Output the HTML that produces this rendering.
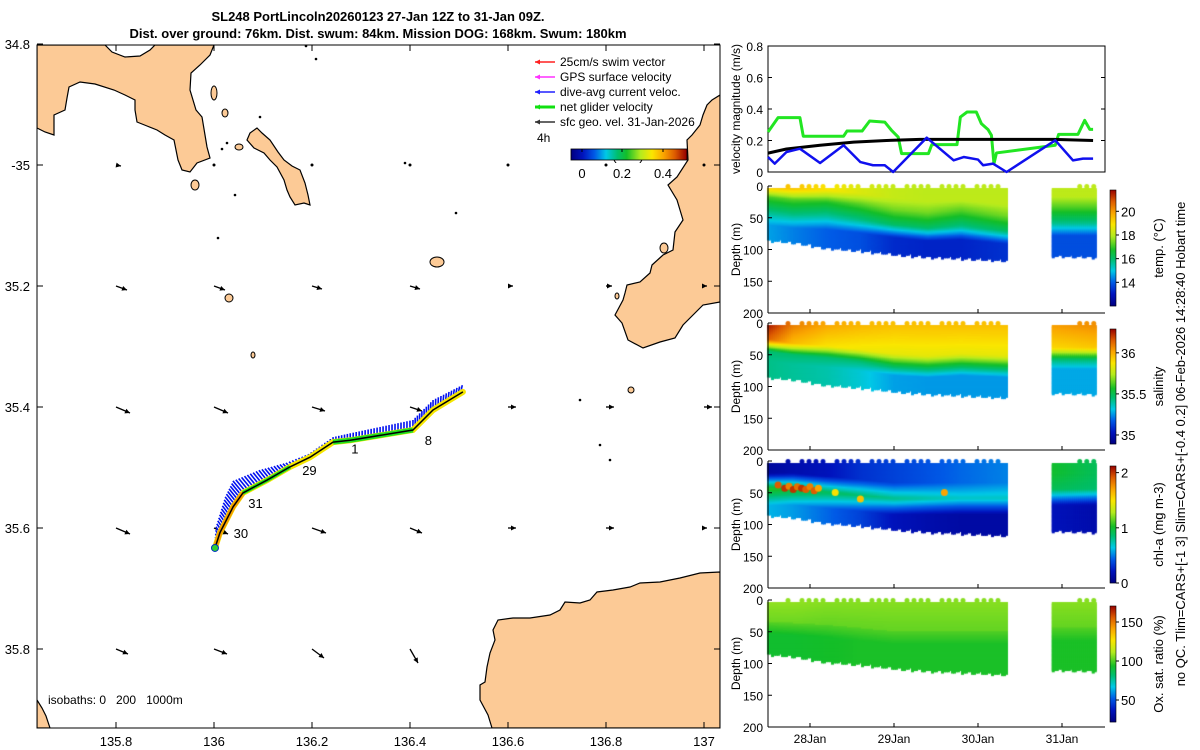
<!DOCTYPE html>
<html><head><meta charset="utf-8"><style>
html,body{margin:0;padding:0;background:#fff;}
#wrap{position:relative;width:1200px;height:750px;overflow:hidden;font-family:"Liberation Sans",sans-serif;}
canvas,svg{position:absolute;left:0;top:0;}
</style></head><body>
<div id="wrap">
<canvas id="cv" width="1200" height="750"></canvas>
<svg id="sv" width="1200" height="750" xmlns="http://www.w3.org/2000/svg" font-family="Liberation Sans, sans-serif">
<text x="378" y="21" text-anchor="middle" font-size="13" font-weight="bold">SL248 PortLincoln20260123 27-Jan 12Z to 31-Jan 09Z.</text>
<text x="378" y="38" text-anchor="middle" font-size="13" font-weight="bold">Dist. over ground: 76km. Dist. swum: 84km. Mission DOG: 168km. Swum: 180km</text>
<g id="map"></g>
<g id="right"></g>
</svg>
</div>
<script>
// ---------- data ----------
const velTimesGreen=[27.50,27.62,27.88,27.92,28.40,28.44,28.62,28.71,28.89,28.97,29.05,29.09,29.41,29.45,29.75,29.79,29.87,29.98,30.04,30.12,30.16,30.19,30.22,30.92,30.96,31.19,31.27,31.33,31.37];
const velGreen=[0.254,0.345,0.345,0.227,0.227,0.26,0.26,0.324,0.317,0.265,0.222,0.117,0.117,0.174,0.174,0.349,0.381,0.381,0.307,0.269,0.233,0.053,0.121,0.17,0.239,0.239,0.328,0.271,0.271];
const velTimesBlue=[27.50,27.58,27.72,27.88,28.12,28.40,28.60,28.75,28.89,28.99,29.39,29.71,29.83,30.00,30.06,30.18,30.34,30.92,31.13,31.25,31.37];
const velBlue=[0.095,0.053,0.127,0.148,0.057,0.17,0.063,0.043,0.043,0,0.218,0.074,0.095,0.079,0.043,0.053,0,0.201,0.074,0.085,0.085];
const velTimesBlack=[27.5,27.72,28.12,28.52,28.91,29.31,30.9,31.37];
const velBlack=[0.12,0.146,0.17,0.19,0.2,0.207,0.207,0.2];
const dayTicks=[28,29,30,31];
const dayLabels=["28Jan","29Jan","30Jan","31Jan"];
const velTicks=[0,0.2,0.4,0.6,0.8];
const depthTicks=[0,50,100,150,200];

const sectTimes=[27.5,27.8,28.2,28.6,29.0,29.4,29.8,30.35,30.89,31.39];
const blockStart=[27.5,30.89];
const blockEnd=[30.35,31.39];
const bottomDepth=[80,83,92,96,102,106,108,112,104,106];
const tempSurf=[19.9,19.4,18.9,18.4,18.1,18.0,18.0,18.0,18.0,18.0];
const tempMld=[25,30,32,38,45,50,48,55,42,42];
const tempMid=[16.5,16.5,16.3,16.5,16.8,16.8,16.5,16.8,16.5,16.5];
const tempDeep=[14.6,14.3,14.0,13.8,13.3,13.2,13.2,13.4,13.8,13.8];
const salSurf=[36.25,36.08,36.0,35.97,35.95,35.95,35.95,35.95,36.02,36.05];
const salMld=[32,38,42,48,55,58,55,58,45,45];
const salMid=[35.45,35.45,35.45,35.45,35.5,35.5,35.5,35.5,35.45,35.45];
const salDeep=[35.42,35.4,35.38,35.33,35.26,35.25,35.25,35.25,35.27,35.27];
const chlSurf=[0.1,0.15,0.2,0.3,0.35,0.4,0.45,0.5,1.0,0.9];
const chlPeakD=[40,40,45,50,55,55,55,55,40,40];
const chlPeak=[1.05,1.0,0.9,0.85,0.8,0.75,0.7,0.7,0.9,0.85];
const chlDeep=[0.6,0.55,0.45,0.35,0.2,0.15,0.12,0.12,0.2,0.15];
const chlPatchT=[27.62,27.7,27.75,27.8,27.85,27.9,27.95,28.0,28.05,28.1,28.3,28.6,29.6];
const chlPatchD=[33,38,35,40,36,38,40,36,42,38,45,55,45];
const chlPatchV=[1.9,2.0,1.8,2.0,1.85,2.0,1.9,1.8,1.9,1.7,1.5,1.6,1.7];
const oxSurf=[107,107,106,106,106,106,106,106,106,106];
const oxDeep=[92,92,93,94,94,94,94,94,94,94];
const oxMld=[30,32,35,40,45,45,45,45,40,40];

const lonTicks=[135.8,136,136.2,136.4,136.6,136.8,137];
const lonLabels=["135.8","136","136.2","136.4","136.6","136.8","137"];
const latTicks=[-34.8,-35,-35.2,-35.4,-35.6,-35.8];
const latLabels=["34.8","-35","35.2","35.4","35.6","35.8"];
const trackLon=[136.002,136.012,136.039,136.059,136.108,136.155,136.196,136.243,136.278,136.406,136.447,136.508];
const trackLat=[-35.633,-35.608,-35.565,-35.542,-35.521,-35.499,-35.483,-35.458,-35.455,-35.438,-35.405,-35.375];
const trackCurU=[0.0,-0.04,-0.08,-0.1,-0.08,-0.04,-0.02,0.0,0.0,0.0,0.0,0.02];
const trackCurV=[0.04,0.06,0.1,0.12,0.1,0.04,0.03,0.05,0.07,0.1,0.1,0.08];
const dayMarkLabels=["30","31","29","1","8"];
const dayMarkLon=[136.04,136.07,136.18,136.28,136.43];
const dayMarkLat=[-35.61,-35.56,-35.506,-35.47,-35.456];
const geoLon=[135.8,136,136.2,136.4,136.6,136.8,137];
const geoLat=[-35,-35.2,-35.4,-35.6,-35.8];
const geoU=[[0.05,0,0,0,0,0,0],[0.11,0.11,0.1,0.1,0.05,0.06,0.03],[0.14,0.14,0.13,0.12,0.08,0.08,0.08],[0.14,0.14,0.14,0.12,0.08,0.08,0.03],[0.12,0.13,0.12,0.08,0,0,0]];
const geoV=[[-0.01,0,0,0,0,0,0],[-0.04,-0.04,-0.03,-0.03,0,0,0],[-0.06,-0.06,-0.04,-0.04,0,0,0],[-0.06,-0.06,-0.05,-0.05,0,0,0],[-0.05,-0.05,-0.09,-0.14,0,0,0]];

// ---------- helpers ----------
const NS="http://www.w3.org/2000/svg";
function mk(parent,tag,attrs,text){const e=document.createElementNS(NS,tag);for(const k in attrs)e.setAttribute(k,attrs[k]);if(text!==undefined)e.textContent=text;parent.appendChild(e);return e;}
const cmStops=[[0,[0,0,130]],[0.1,[0,20,190]],[0.2,[0,90,230]],[0.3,[0,200,230]],[0.4,[0,190,110]],[0.48,[20,190,40]],[0.6,[180,235,30]],[0.7,[250,230,0]],[0.8,[250,165,0]],[0.9,[220,90,0]],[1,[150,0,0]]];
function jet(v){v=Math.max(0,Math.min(1,v));for(let i=1;i<cmStops.length;i++){if(v<=cmStops[i][0]){const a=cmStops[i-1],b=cmStops[i];const f=(v-a[0])/(b[0]-a[0]);const c=a[1].map((x,k)=>Math.round(x+f*(b[1][k]-x)));return `rgb(${c[0]},${c[1]},${c[2]})`;}}return 'rgb(150,0,0)';}
function interp(xs,ys,x){if(x<=xs[0])return ys[0];for(let i=1;i<xs.length;i++){if(x<=xs[i]){const f=(x-xs[i-1])/(xs[i]-xs[i-1]);return ys[i-1]+f*(ys[i]-ys[i-1]);}}return ys[ys.length-1];}

// map axes
const MX0=37,MX1=720,MY0=45,MY1=728;
function mxf(lon){return 214+(lon-136)*490;}
function myf(lat){return 165+(-35-lat)*605;}
const map=document.getElementById('map');
const land="#fcca96";
const clipD=mk(map,'clipPath',{id:'mclip'});mk(clipD,'rect',{x:MX0,y:MY0,width:MX1-MX0,height:MY1-MY0});
const lg=mk(map,'g',{'clip-path':'url(#mclip)'});

const lands=[
 "37,45 105,45 112,52 125,57 140,56 150,50 155,45 214,45 210,55 200,65 191,73 190,90 196,110 202,117 205,135 207,147 210,158 197,163 190,172 182,170 178,160 174,140 165,135 157,130 147,126 137,122 135,110 135,100 125,95 114,90 95,84 80,82 69,87 67,98 65,110 54,115 54,125 54,135 45,132 37,128",
 "257,128 262,133 270,140 278,152 284,160 292,166 300,170 305,183 308,195 310,205 304,203 295,205 290,197 287,190 284,180 277,167 270,160 264,153 254,148 247,140 250,133",
 "720,95 712,100 707,105 703,115 700,125 692,135 687,140 688,160 677,177 668,185 677,200 683,220 675,232 673,250 663,255 652,265 650,273 640,282 627,285 625,293 623,300 615,315 622,323 628,340 643,348 660,342 675,338 683,325 693,315 703,305 720,302",
 "720,572 700,573 680,578 660,582 640,583 630,587 613,590 597,592 590,600 580,603 565,602 560,610 550,615 530,618 513,618 498,620 493,630 495,640 490,653 487,667 485,682 480,685 480,700 488,715 492,728 720,728",
 "37,700 42,708 46,716 50,728 37,728"
];
lands.forEach((p,i)=>{const e=mk(lg,'polygon',{points:p,fill:land,stroke:'#000','stroke-width':1.2});});
[[214,93,3,7],[225,113,3,4],[239,147,4,3],[195,185,4,5],[229,298,4,4],[437,262,7,5],[253,355,2,3],[631,390,3,3],[664,248,4,5],[617,296,2,3]].forEach((c,i)=>{const e=mk(lg,'ellipse',{cx:c[0],cy:c[1],rx:c[2],ry:c[3],fill:land,stroke:'#000','stroke-width':1});});
[[306,46],[316,59],[260,117],[405,163],[456,213],[218,238],[235,195],[222,149],[227,143],[600,445],[610,460],[580,400]].forEach(d=>mk(lg,'circle',{cx:d[0],cy:d[1],r:1.3,fill:'#000'}));

function arrow(g,x,y,dx,dy,col,w){const L=Math.hypot(dx,dy);if(L<1.5){mk(g,'circle',{cx:x,cy:y,r:1.5,fill:col});return;}mk(g,'line',{x1:x,y1:y,x2:x+dx,y2:y+dy,stroke:col,'stroke-width':w});const ux=dx/L,uy=dy/L,h=5;mk(g,'polygon',{points:`${x+dx},${y+dy} ${x+dx-h*ux-2.5*uy},${y+dy-h*uy+2.5*ux} ${x+dx-h*ux+2.5*uy},${y+dy-h*uy-2.5*ux}`,fill:col});}
const ga=mk(lg,'g',{});

geoLat.forEach((la,i)=>geoLon.forEach((lo,j)=>{if(la===-35.8&&lo>=136.6)return;arrow(ga,mxf(lo),myf(la),geoU[i][j]*100,-geoV[i][j]*100,'#000',1.3);}));

const tg=mk(lg,'g',{});

const tpts=trackLon.map((lo,i)=>[mxf(lo),myf(trackLat[i])]);
for(let i=0;i<tpts.length-1;i++){const n=Math.max(2,Math.round(Math.hypot(tpts[i+1][0]-tpts[i][0],tpts[i+1][1]-tpts[i][1])/3));for(let k=0;k<n;k++){const f=k/n;const x=tpts[i][0]+f*(tpts[i+1][0]-tpts[i][0]),y=tpts[i][1]+f*(tpts[i+1][1]-tpts[i][1]);const u=trackCurU[i]+f*(trackCurU[i+1]-trackCurU[i]),v=trackCurV[i]+f*(trackCurV[i+1]-trackCurV[i]);mk(tg,'line',{x1:x,y1:y,x2:x+u*100,y2:y-v*100,stroke:'#0010f0','stroke-width':1.6});}}
const pstr=tpts.map(p=>p.join(',')).join(' ');
mk(tg,'polyline',{points:pstr,fill:'none',stroke:'#f5e600','stroke-width':6,'stroke-linecap':'round'});
mk(tg,'polyline',{points:tpts.slice(0,4).map(p=>p.join(',')).join(' '),fill:'none',stroke:'#f5a000','stroke-width':5});
mk(tg,'polyline',{points:tpts.slice(7,10).map(p=>p.join(',')).join(' '),fill:'none',stroke:'#20e020','stroke-width':5});
mk(tg,'polyline',{points:tpts.slice(3,6).map(p=>p.join(',')).join(' '),fill:'none',stroke:'#20e020','stroke-width':4});
mk(tg,'polyline',{points:pstr,fill:'none',stroke:'#000','stroke-width':1.5});
mk(tg,'circle',{cx:tpts[0][0],cy:tpts[0][1],r:3.5,fill:'#30d030',stroke:'#0030c0','stroke-width':1});
dayMarkLabels.forEach((t,i)=>{const e=mk(map,'text',{x:mxf(dayMarkLon[i]),y:myf(dayMarkLat[i])+4,'font-size':13},t);});

const leg=mk(map,'g',{});

const legCols=['#ff2020','#ff30ff','#2020ff','#10e010','#333'];
const legTxt=['25cm/s swim vector','GPS surface velocity','dive-avg current veloc.','net glider velocity','sfc geo. vel. 31-Jan-2026'];
legTxt.forEach((t,i)=>{const y=62+i*15;arrow(leg,555,y,-20,0,legCols[i],i===3?3:1.5);const e=mk(leg,'text',{x:560,y:y+4,'font-size':12},t);});
mk(leg,'text',{x:537,y:142,'font-size':12},'4h');
mk(leg,'text',{x:628,y:160,'font-size':14,'text-anchor':'middle'},'(m/s)');
for(let i=0;i<116;i++){mk(leg,'rect',{x:571+i,y:149,width:1.2,height:11,fill:jet(i/115)});}
mk(leg,'rect',{x:571,y:149,width:116,height:11,fill:'none',stroke:'#000','stroke-width':0.8});
[[582,'0'],[622,'0.2'],[663,'0.4']].forEach(t=>{mk(leg,'line',{x1:t[0],y1:149,x2:t[0],y2:152,stroke:'#000'});mk(leg,'text',{x:t[0],y:178,'font-size':13,'text-anchor':'middle'},t[1]);});
mk(map,'text',{x:48,y:704,'font-size':12,style:'white-space:pre'},'isobaths: 0   200   1000m');

mk(map,'rect',{x:MX0,y:MY0,width:MX1-MX0,height:MY1-MY0,fill:'none',stroke:'#000','stroke-width':1});
lonTicks.forEach((lo,i)=>{const x=mxf(lo);mk(map,'line',{x1:x,y1:MY1,x2:x,y2:MY1-6,stroke:'#000'});mk(map,'line',{x1:x,y1:MY0,x2:x,y2:MY0+6,stroke:'#000'});const e=mk(map,'text',{x:x,y:746,'font-size':13,'text-anchor':'middle'},lonLabels[i]);});
latTicks.forEach((la,i)=>{const y=myf(la);mk(map,'line',{x1:MX0,y1:y,x2:MX0+6,y2:y,stroke:'#000'});mk(map,'line',{x1:MX1,y1:y,x2:MX1-6,y2:y,stroke:'#000'});const e=mk(map,'text',{x:30,y:y+5,'font-size':13,'text-anchor':'end'},latLabels[i]);});

// ---------- right panels ----------
const R=document.getElementById('right');
const AX0=768,AX1=1105;
function tx(t){return AX0+(t-27.5)*84;}
const VY0=46,VY1=172;
function vy(v){return VY1-v*157.5;}
function series(xs,ys,col,w,name){const e=mk(R,'polyline',{points:xs.map((t,i)=>tx(t)+','+vy(ys[i])).join(' '),fill:'none',stroke:col,'stroke-width':w,'stroke-linejoin':'round'});}
mk(R,'rect',{x:AX0,y:VY0,width:AX1-AX0,height:VY1-VY0,fill:'none',stroke:'#000'});
series(velTimesGreen,velGreen,'#22e622',3,'net-glider-velocity-line');
series(velTimesBlack,velBlack,'#000',3,'geostrophic-velocity-line');
series(velTimesBlue,velBlue,'#1010ee',2.5,'current-velocity-line');
velTicks.forEach(v=>{const y=vy(v);mk(R,'line',{x1:AX0,y1:y,x2:AX0+4,y2:y,stroke:'#000'});mk(R,'line',{x1:AX1,y1:y,x2:AX1-4,y2:y,stroke:'#000'});mk(R,'text',{x:763,y:y+5,'font-size':12,'text-anchor':'end'},String(v));});
mk(R,'text',{transform:'translate(740,109) rotate(-90)','font-size':12,'text-anchor':'middle'},'velocity magnitude (m/s)');

const ptops=[186,323,461,600],PH=127;
const cbTop=[190,329,466,606],cbBot=[306,444,583,722];
const cbMin=[12.0,34.89,0,21.8],cbMax=[21.8,36.29,2.12,170.5];
const cbTicks=[[14,16,18,20],[35,35.5,36],[0,1,2],[50,100,150]];
const cbLabels=[["14","16","18","20"],["35","35.5","36"],["0","1","2"],["50","100","150"]];
const cbTitles=['temp. (°C)','salinity','chl-a (mg m-3)','Ox. sat. ratio (%)'];
ptops.forEach((top,p)=>{
 const g=mk(R,'g',{});
 mk(g,'line',{x1:AX0,y1:top,x2:AX0,y2:top+PH,stroke:'#000'});mk(g,'line',{x1:AX0,y1:top+PH,x2:AX1,y2:top+PH,stroke:'#000'});
 depthTicks.forEach(d=>{const y=top+d/200*PH;mk(g,'line',{x1:AX0,y1:y,x2:AX0+4,y2:y,stroke:'#000'});mk(g,'text',{x:763,y:y+5,'font-size':12,'text-anchor':'end'},String(d));});
 mk(g,'text',{transform:`translate(740,${top+PH/2}) rotate(-90)`,'font-size':12,'text-anchor':'middle'},'Depth (m)');
 dayTicks.forEach(t=>mk(g,'line',{x1:tx(t),y1:top+PH,x2:tx(t),y2:top+PH-4,stroke:'#000'}));
 const n=cbBot[p]-cbTop[p];for(let i=0;i<n;i++)mk(g,'rect',{x:1110,y:cbBot[p]-i-1,width:6,height:1.2,fill:jet(i/n)});
 mk(g,'rect',{x:1110,y:cbTop[p],width:6,height:n,fill:'none',stroke:'#000','stroke-width':0.6});
 cbTicks[p].forEach((v,i)=>{const y=cbBot[p]-(v-cbMin[p])/(cbMax[p]-cbMin[p])*n;mk(g,'line',{x1:1116,y1:y,x2:1119,y2:y,stroke:'#000'});mk(g,'text',{x:1121,y:y+5,'font-size':13},cbLabels[p][i]);});
 mk(g,'text',{transform:`translate(1163,${(cbTop[p]+cbBot[p])/2}) rotate(-90)`,'font-size':13,'text-anchor':'middle'},cbTitles[p]);
});
dayTicks.forEach((t,i)=>{const e=mk(R,'text',{x:tx(t),y:743,'font-size':12,'text-anchor':'middle'},dayLabels[i]);});
mk(R,'text',{transform:'translate(1185,444) rotate(-90)','font-size':13,'text-anchor':'middle'},'no QC. Tlim=CARS+[-1 3] Slim=CARS+[-0.4 0.2] 06-Feb-2026 14:28:40 Hobart time');

// ---------- sections on canvas ----------
const ctx=document.getElementById('cv').getContext('2d');
function blend(a,b,f){f=Math.max(0,Math.min(1,f));return a+(b-a)*f;}
function val(p,t,d){
 const I=a=>interp(sectTimes,a,t);
 if(p===0){const m=I(tempMld),s=I(tempSurf),mi=I(tempMid),dp=I(tempDeep);return d<m-12?blend(s,mi+0.6,(d-(m-30))/18):d<m+12?blend(mi+0.6,mi-0.8,(d-m+12)/24):blend(mi-0.8,dp,(d-m-12)/20);}
 if(p===1){const m=I(salMld),s=I(salSurf),mi=I(salMid),dp=I(salDeep);return d<m-10?blend(s,s-0.12,d/(m-10)):d<m+8?blend(s-0.12,mi,(d-m+10)/18):blend(mi,dp,(d-m-8)/15);}
 if(p===2){const pk=I(chlPeakD),s=I(chlSurf),pv=I(chlPeak),dp=I(chlDeep);return d<pk?blend(s,pv,(d-pk+25)/25):blend(pv,dp,(d-pk)/25);}
 const m=I(oxMld);return d<m?blend(I(oxSurf),I(oxSurf)-4,d/m):blend(I(oxSurf)-6,I(oxDeep),(d-m)/20);
}
ptops.forEach((top,p)=>{
 for(let b=0;b<blockStart.length;b++){
  for(let x=tx(blockStart[b]);x<=tx(blockEnd[b]);x+=2){
   const t=27.5+(x-AX0)/84;const bd=interp(sectTimes,bottomDepth,t)+((x*7)%5)-2;
   for(let d=0;d<=bd;d+=2){
    ctx.fillStyle=jet((val(p,t,d)-cbMin[p])/(cbMax[p]-cbMin[p]));
    ctx.fillRect(x-1,top+2+d/200*PH,3,3);
   }
  }
  for(let x=tx(blockStart[b])+20;x<=tx(blockEnd[b]);x+=7){
   if(((x*13)|0)%5===0)continue;
   const t=27.5+(x-AX0)/84;ctx.fillStyle=jet((val(p,t,0)-cbMin[p])/(cbMax[p]-cbMin[p]));
   ctx.beginPath();ctx.arc(x,top+0.5,2.5,0,7);ctx.fill();
  }
 }
 if(p===2){chlPatchT.forEach((t,i)=>{ctx.fillStyle=jet(chlPatchV[i]/2.12);ctx.beginPath();ctx.arc(tx(t),top+3+chlPatchD[i]/200*PH,3.5,0,7);ctx.fill();});}
});
</script>
</body></html>
